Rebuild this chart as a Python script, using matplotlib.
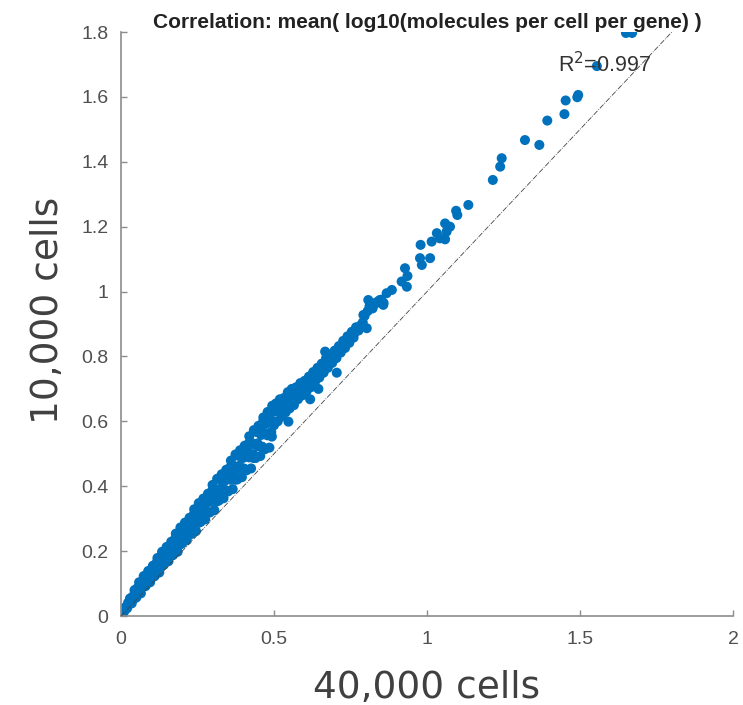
import matplotlib.pyplot as plt
import numpy as np

# dense part of the cloud (x < 0.5)
x_band = [0.005, 0.011, 0.008, 0.014, 0.020, 0.026, 0.023, 0.029, 0.035, 0.041, 0.038, 0.044,
          0.050, 0.056, 0.053, 0.059, 0.065, 0.071, 0.068, 0.074, 0.080, 0.086, 0.083, 0.089,
          0.095, 0.101, 0.098, 0.104, 0.110, 0.116, 0.113, 0.119, 0.125, 0.131, 0.128, 0.134,
          0.140, 0.146, 0.143, 0.149, 0.155, 0.161, 0.158, 0.164, 0.170, 0.176, 0.173, 0.179,
          0.185, 0.191, 0.188, 0.194, 0.200, 0.206, 0.203, 0.209, 0.215, 0.221, 0.218, 0.224,
          0.230, 0.236, 0.233, 0.239, 0.245, 0.251, 0.248, 0.254, 0.260, 0.266, 0.263, 0.269,
          0.275, 0.281, 0.278, 0.284, 0.290, 0.296, 0.293, 0.299, 0.305, 0.311, 0.308, 0.314,
          0.320, 0.326, 0.323, 0.329, 0.335, 0.341, 0.338, 0.344, 0.350, 0.356, 0.353, 0.359,
          0.365, 0.371, 0.368, 0.374, 0.380, 0.386, 0.383, 0.389, 0.395, 0.401, 0.398, 0.404,
          0.410, 0.416, 0.413, 0.419, 0.425, 0.431, 0.428, 0.434, 0.440, 0.446, 0.443, 0.449,
          0.455, 0.461, 0.458, 0.464, 0.470, 0.476, 0.473, 0.479, 0.485, 0.491, 0.488, 0.494]
y_band = [0.005, 0.015, 0.013, 0.027, 0.024, 0.039, 0.041, 0.054, 0.039, 0.052, 0.060, 0.080,
          0.057, 0.078, 0.086, 0.104, 0.070, 0.091, 0.102, 0.123, 0.092, 0.115, 0.127, 0.139,
          0.104, 0.120, 0.134, 0.155, 0.123, 0.147, 0.159, 0.179, 0.134, 0.159, 0.174, 0.198,
          0.158, 0.184, 0.200, 0.213, 0.169, 0.187, 0.204, 0.229, 0.188, 0.216, 0.231, 0.254,
          0.198, 0.227, 0.246, 0.273, 0.224, 0.254, 0.274, 0.288, 0.234, 0.254, 0.275, 0.303,
          0.253, 0.285, 0.303, 0.329, 0.262, 0.295, 0.318, 0.348, 0.290, 0.324, 0.347, 0.362,
          0.298, 0.321, 0.346, 0.377, 0.319, 0.354, 0.376, 0.404, 0.326, 0.363, 0.389, 0.423,
          0.356, 0.393, 0.421, 0.437, 0.363, 0.388, 0.416, 0.451, 0.384, 0.423, 0.448, 0.479,
          0.391, 0.431, 0.461, 0.498, 0.421, 0.463, 0.494, 0.511, 0.428, 0.455, 0.487, 0.525,
          0.449, 0.492, 0.520, 0.554, 0.455, 0.499, 0.533, 0.573, 0.487, 0.532, 0.567, 0.586,
          0.493, 0.522, 0.558, 0.599, 0.514, 0.561, 0.592, 0.629, 0.519, 0.567, 0.605, 0.648]

# more points inside the dense part
x_fill = [0.103, 0.103, 0.118, 0.118, 0.133, 0.133, 0.148, 0.148, 0.163, 0.163, 0.178, 0.178,
          0.193, 0.193, 0.208, 0.208, 0.223, 0.223, 0.238, 0.238, 0.253, 0.253, 0.268, 0.268,
          0.283, 0.283, 0.298, 0.298, 0.313, 0.313, 0.328, 0.328, 0.343, 0.343, 0.358, 0.358,
          0.373, 0.373, 0.388, 0.388, 0.403, 0.403, 0.418, 0.418, 0.433, 0.433, 0.448, 0.448,
          0.463, 0.463, 0.478, 0.478, 0.493, 0.493]
y_fill = [0.120, 0.140, 0.146, 0.168, 0.154, 0.175, 0.180, 0.204, 0.187, 0.211, 0.215, 0.241,
          0.220, 0.246, 0.249, 0.277, 0.254, 0.282, 0.283, 0.314, 0.287, 0.317, 0.318, 0.350,
          0.320, 0.353, 0.352, 0.387, 0.353, 0.388, 0.386, 0.423, 0.387, 0.423, 0.420, 0.460,
          0.420, 0.459, 0.455, 0.496, 0.453, 0.494, 0.489, 0.533, 0.487, 0.530, 0.523, 0.570,
          0.520, 0.565, 0.557, 0.606, 0.553, 0.601]

# middle part (0.5 .. 0.86)
x_mid = [0.500, 0.503, 0.506, 0.512, 0.516, 0.519, 0.525, 0.528, 0.532, 0.538, 0.541, 0.545,
         0.551, 0.555, 0.558, 0.565, 0.568, 0.572, 0.578, 0.582, 0.586, 0.592, 0.596, 0.600,
         0.606, 0.610, 0.614, 0.620, 0.624, 0.628, 0.634, 0.638, 0.642, 0.648, 0.652, 0.656,
         0.662, 0.666, 0.670, 0.676, 0.680, 0.684, 0.690, 0.694, 0.698, 0.704, 0.708, 0.712,
         0.718, 0.722, 0.726, 0.732, 0.736, 0.740, 0.746, 0.750, 0.754, 0.760, 0.764, 0.768,
         0.776, 0.782, 0.790, 0.796, 0.806, 0.812, 0.822, 0.830, 0.840, 0.850, 0.858,
         0.465, 0.547, 0.618, 0.645, 0.705, 0.667, 0.792, 0.803]
y_mid = [0.588, 0.630, 0.655, 0.600, 0.640, 0.668, 0.615, 0.650, 0.672, 0.628, 0.660, 0.690,
         0.640, 0.668, 0.700, 0.650, 0.682, 0.705, 0.668, 0.690, 0.718, 0.680, 0.705, 0.725,
         0.692, 0.716, 0.738, 0.705, 0.728, 0.752, 0.722, 0.745, 0.765, 0.735, 0.758, 0.778,
         0.750, 0.770, 0.795, 0.765, 0.786, 0.806, 0.780, 0.800, 0.818, 0.795, 0.814, 0.832,
         0.812, 0.830, 0.848, 0.826, 0.845, 0.862, 0.842, 0.860, 0.876, 0.858, 0.874, 0.890,
         0.880, 0.895, 0.905, 0.925, 0.940, 0.955, 0.948, 0.962, 0.970, 0.975, 0.965,
         0.612, 0.599, 0.668, 0.700, 0.750, 0.815, 0.928, 0.887]

# sparse upper tail
x_top = [0.808, 0.825, 0.846, 0.857, 0.868, 0.885, 0.917, 0.934, 0.936, 0.928, 0.983, 0.977,
         1.010, 0.979, 1.015, 1.059, 1.042, 1.032, 1.064, 1.075, 1.059, 1.099, 1.095, 1.135,
         1.215, 1.239, 1.244, 1.320, 1.367, 1.393, 1.449, 1.453, 1.491, 1.494, 1.555, 1.650, 1.670]
y_top = [0.974, 0.964, 0.974, 0.959, 0.995, 1.005, 1.031, 1.015, 1.048, 1.072, 1.082, 1.103,
         1.103, 1.144, 1.154, 1.161, 1.164, 1.180, 1.185, 1.200, 1.210, 1.236, 1.249, 1.267,
         1.344, 1.385, 1.411, 1.467, 1.452, 1.527, 1.547, 1.589, 1.599, 1.606, 1.695, 1.797, 1.797]

x_ticks = [0, 0.5, 1, 1.5, 2]
x_ticklabels = ['0', '0.5', '1', '1.5', '2']
y_ticks = [0, 0.2, 0.4, 0.6, 0.8, 1.0, 1.2, 1.4, 1.6, 1.8]
y_ticklabels = ['0', '0.2', '0.4', '0.6', '0.8', '1', '1.2', '1.4', '1.6', '1.8']
r2 = 0.997

xs = np.array(x_band + x_fill + x_mid + x_top)
ys = np.array(y_band + y_fill + y_mid + y_top)

fig = plt.figure(figsize=(7.43, 7.05), dpi=100)
ax = fig.add_axes([0.1629, 0.1262, 0.8237, 0.8284])

ax.plot([0, 2], [0, 2], linestyle='-.', color='#444444', linewidth=0.6, zorder=3)
ax.scatter(xs, ys, s=52, color='#0072BD', edgecolors='none', zorder=2)

ax.set_xlim(0, 2)
ax.set_ylim(0, 1.8)

ax.spines['right'].set_color('none')
ax.spines['top'].set_color('none')
for sp in ['left', 'bottom']:
    ax.spines[sp].set_color('#8c8c8c')
    ax.spines[sp].set_linewidth(1.2)

ax.set_xticks(x_ticks)
ax.set_xticklabels(x_ticklabels)
ax.set_yticks(y_ticks)
ax.set_yticklabels(y_ticklabels)
ax.tick_params(direction='in', length=4, width=1, color='#8c8c8c',
               labelcolor='#505050', labelsize=14)
ax.tick_params(axis='x', pad=11)
ax.tick_params(axis='y', pad=9)
for label in ax.get_xticklabels() + ax.get_yticklabels():
    label.set_fontfamily('Liberation Sans')

ax.set_title('Correlation: mean( log10(molecules per cell per gene) )',
             fontsize=15, fontweight='bold', family='Liberation Sans',
             color='#222222', pad=1)

ax.text(1.428, 1.70, 'R$^2$=' + str(r2), fontsize=15.5, family='Liberation Sans',
        color='#333333', va='center', ha='left')

ax.set_xlabel('40,000 cells', fontsize=27, color='#404040', family='DejaVu Sans')
ax.set_ylabel('10,000 cells', fontsize=27, color='#404040', family='DejaVu Sans')
ax.xaxis.set_label_coords(0.5, -0.092)
ax.yaxis.set_label_coords(-0.090, 0.524)

plt.savefig('out.png', dpi=100)
